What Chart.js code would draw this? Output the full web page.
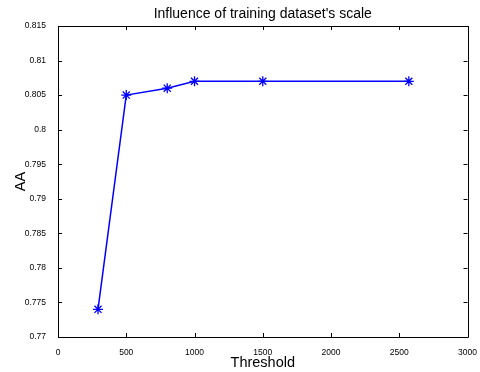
<!DOCTYPE html>
<html>
<head>
<meta charset="utf-8">
<title>Influence of training dataset's scale</title>
<script src="https://cdn.jsdelivr.net/npm/chart.js@4/dist/chart.umd.min.js"></script>
<style>
  html, body { margin: 0; padding: 0; background: #fff; }
  #wrap { width: 480px; height: 372px; }
</style>
</head>
<body>
<div id="wrap"><canvas id="chart" width="480" height="372"></canvas></div>
<script>
var thresholds = [293, 500, 800, 1000, 1500, 2570];
var aaValues = [0.774, 0.805, 0.806, 0.807, 0.807, 0.807];
var xTicks = [0, 500, 1000, 1500, 2000, 2500, 3000];
var yTicks = [0.77, 0.775, 0.78, 0.785, 0.79, 0.795, 0.8, 0.805, 0.81, 0.815];

var fontFamily = '"Liberation Sans", Arial, Helvetica, sans-serif';

// matlab style box with inward ticks on all four sides
var boxTicks = {
  id: 'boxTicks',
  afterDraw: function(chart) {
    var ctx = chart.ctx;
    var a = chart.chartArea;
    var xs = chart.scales.x;
    var ys = chart.scales.y;
    var len = 4;
    ctx.save();
    ctx.strokeStyle = '#000';
    ctx.lineWidth = 1;
    ctx.beginPath();
    ctx.rect(Math.round(a.left) + 0.5, Math.round(a.top) + 0.5,
      Math.round(a.right - a.left), Math.round(a.bottom - a.top));
    xTicks.forEach(function(v) {
      var px = Math.round(xs.getPixelForValue(v)) + 0.5;
      ctx.moveTo(px, a.bottom);
      ctx.lineTo(px, a.bottom - len);
      ctx.moveTo(px, a.top);
      ctx.lineTo(px, a.top + len);
    });
    yTicks.forEach(function(v) {
      var py = Math.round(ys.getPixelForValue(v)) + 0.5;
      ctx.moveTo(a.left, py);
      ctx.lineTo(a.left + len, py);
      ctx.moveTo(a.right, py);
      ctx.lineTo(a.right - len, py);
    });
    ctx.stroke();
    ctx.restore();
  }
};

var ctx = document.getElementById('chart').getContext('2d');
var chart = new Chart(ctx, {
  type: 'scatter',
  data: {
    datasets: [{
      label: 'AA',
      data: thresholds.map(function(t, i) { return { x: t, y: aaValues[i] }; }),
      showLine: true,
      borderColor: '#0000ff',
      backgroundColor: '#0000ff',
      borderWidth: 1.5,
      pointStyle: 'star',
      pointRadius: 5,
      pointBorderWidth: 1.3,
      pointBorderColor: '#0000ff'
    }]
  },
  options: {
    responsive: false,
    animation: false,
    layout: { padding: { top: 0, right: 11, bottom: 0, left: 0 } },
    plugins: {
      legend: { display: false },
      tooltip: { enabled: false },
      title: {
        display: true,
        fullSize: false,
        text: "Influence of training dataset's scale",
        color: '#000',
        font: { family: fontFamily, size: 14, weight: 'normal', lineHeight: 1.2 },
        padding: { top: 6, bottom: 3.2 }
      }
    },
    scales: {
      x: {
        type: 'linear',
        min: 0,
        max: 3000,
        afterBuildTicks: function(scale) {
          scale.ticks = xTicks.map(function(v) { return { value: v }; });
        },
        afterFit: function(scale) { scale.height = 35; },
        grid: { display: false },
        border: { display: false },
        ticks: {
          color: '#000',
          padding: 3,
          maxRotation: 0,
          font: { family: fontFamily, size: 8.5 },
          callback: function(v) { return String(v); }
        },
        title: {
          display: true,
          text: 'Threshold',
          color: '#000',
          padding: { top: 0, bottom: 0 },
          font: { family: fontFamily, size: 14.5 }
        }
      },
      y: {
        type: 'linear',
        min: 0.77,
        max: 0.815,
        afterBuildTicks: function(scale) {
          scale.ticks = yTicks.map(function(v) { return { value: v }; });
        },
        afterFit: function(scale) { scale.width = 58; },
        grid: { display: false },
        border: { display: false },
        ticks: {
          color: '#000',
          padding: 4,
          font: { family: fontFamily, size: 8.5 },
          callback: function(v) { return String(parseFloat(v.toFixed(3))); }
        },
        title: {
          display: true,
          text: 'AA',
          color: '#000',
          padding: { top: 12, bottom: 4 },
          font: { family: fontFamily, size: 14.5 }
        }
      }
    }
  },
  plugins: [boxTicks]
});
</script>
</body>
</html>
